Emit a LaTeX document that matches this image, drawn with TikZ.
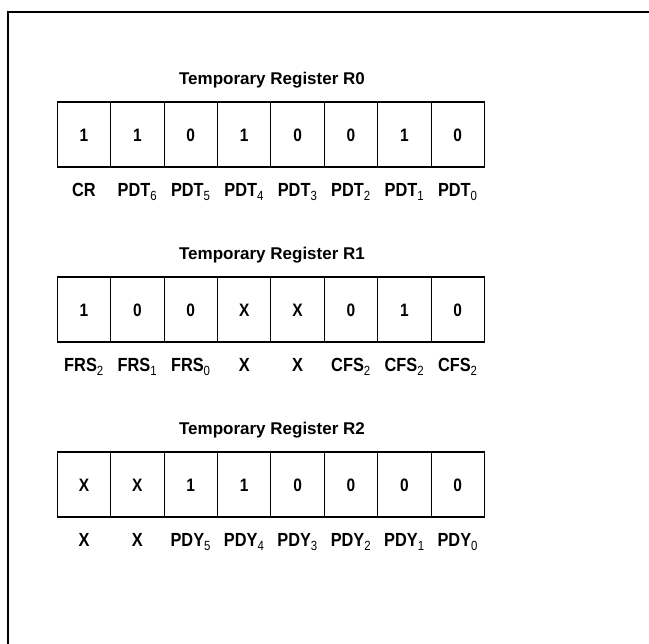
\documentclass[tikz,border=0pt]{standalone}
\usepackage{fontspec}
\setmainfont{Liberation Sans}
\newfontfamily\condfont[FakeStretch=0.86]{Liberation Sans}
\newcommand{\sbx}[1]{\textsubscript{\mdseries #1}}
\begin{document}
\begin{tikzpicture}[x=1pt,y=-1pt,
  cell/.style={draw, line width=1.1pt, minimum width=53.4pt, minimum height=65pt, inner sep=0pt, outer sep=0pt},
  bit/.style={font=\condfont\fontsize{18}{18}\selectfont\bfseries, anchor=base, inner sep=0pt},
  lbl/.style={font=\condfont\fontsize{19}{19}\selectfont\bfseries, anchor=base, inner sep=0pt},
  ttl/.style={font=\fontsize{17}{17}\selectfont\bfseries, anchor=base, inner sep=0pt}]
\useasboundingbox (0,0) rectangle (649,644);
\coordinate (ftr) at (649,12);
\coordinate (ftl) at (8,12);
\coordinate (fbl) at (8,644);
\draw[line width=2.2pt] (ftr) -- (ftl) -- (fbl);
% registers
\foreach \r/\yt/\tl/\bits/\labs in {
  0/102/Temporary Register R0/{1,1,0,1,0,0,1,0}/{CR,PDT\sbx{6},PDT\sbx{5},PDT\sbx{4},PDT\sbx{3},PDT\sbx{2},PDT\sbx{1},PDT\sbx{0}},
  1/277/Temporary Register R1/{1,0,0,X,X,0,1,0}/{FRS\sbx{2},FRS\sbx{1},FRS\sbx{0},X,X,CFS\sbx{2},CFS\sbx{2},CFS\sbx{2}},
  2/452/Temporary Register R2/{X,X,1,1,0,0,0,0}/{X,X,PDY\sbx{5},PDY\sbx{4},PDY\sbx{3},PDY\sbx{2},PDY\sbx{1},PDY\sbx{0}}} {
  \node[ttl] (t\r) at (272,\yt-17) {\tl};
  \foreach \b [count=\i] in \bits {
    \node[cell] (c\r\i) at (57.3+53.4*\i-26.7,\yt+32.5) {};
    \node[bit] (b\r\i) at (57.3+53.4*\i-26.7,\yt+39.5) {\b};
  }
  \foreach \l [count=\i] in \labs {
    \node[lbl] (l\r\i) at (57.3+53.4*\i-26.7,\yt+95) {\l};
  }
}
\end{tikzpicture}
\end{document}
